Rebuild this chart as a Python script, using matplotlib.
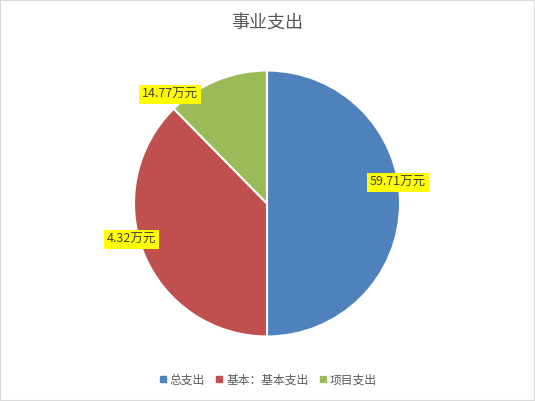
import matplotlib
matplotlib.use("Agg")
import matplotlib.pyplot as plt
from matplotlib.lines import Line2D
from matplotlib.patches import Rectangle

plt.rcParams['font.family'] = ['Noto Sans CJK SC', 'DejaVu Sans']

# Datos
categorias = ["总支出", "基本：基本支出", "项目支出"]
valores = [59.71, 44.94, 14.77]
etiquetas = ["59.71万元", "4.32万元", "14.77万元"]
colores = ["#4F81BD", "#C0504D", "#9BBB59"]

fig = plt.figure(figsize=(5.35, 4.01), dpi=100)
ax = fig.add_axes([134 / 535, 64 / 401, 266 / 535, 267 / 401])

wedges, _ = ax.pie(valores, colors=colores, startangle=90, counterclock=False,
                   radius=1.0, wedgeprops=dict(edgecolor="white", linewidth=1.5))
ax.set_xlim(-1.0, 1.0)
ax.set_ylim(-1.0, 1.0)
ax.set_aspect("equal")
ax.axis("off")

# Posiciones de etiquetas (unidades del radio)
pos = [(0.985, 0.158), (-1.02, -0.27), (-0.73, 0.82)]
for (x, y), txt in zip(pos, etiquetas):
    ax.text(x, y, txt, ha="center", va="center", fontsize=9, color="#404040",
            bbox=dict(boxstyle="square,pad=0.25", facecolor="#FFFF00", edgecolor="none"),
            clip_on=False)

fig.text(0.5, 1 - 23 / 401, "事业支出", ha="center", va="center",
         fontsize=13, color="#595959")

handles = [Line2D([], [], marker="s", linestyle="none", markersize=5,
                  markerfacecolor=c, markeredgecolor=c) for c in colores]
fig.legend(handles, categorias, loc="center", bbox_to_anchor=(0.5, 1 - 380 / 401),
           ncol=3, frameon=False, fontsize=8.5, labelcolor="#595959",
           handletextpad=0.2, columnspacing=0.8, handlelength=0.8)

fig.patches.append(Rectangle((0, 0), 1, 1, transform=fig.transFigure, fill=False,
                             edgecolor="#D9D9D9", linewidth=1.5))

fig.savefig("out.png", dpi=100)
